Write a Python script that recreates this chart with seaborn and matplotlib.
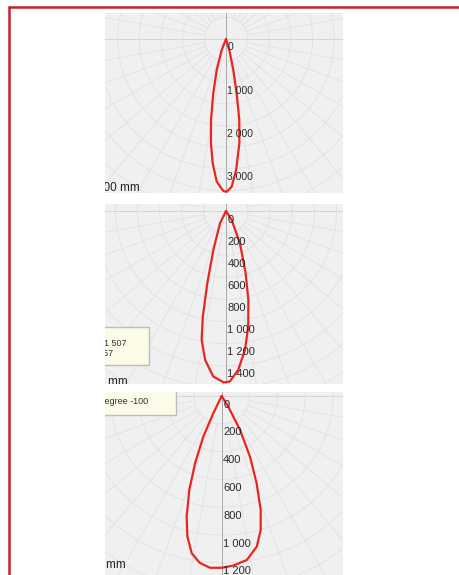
import numpy as np
import matplotlib
matplotlib.use("Agg")
import matplotlib.pyplot as plt
import matplotlib.transforms as mtransforms
from matplotlib.patches import Rectangle
from matplotlib.lines import Line2D
import seaborn as sns

# Light distribution curves: angle from nadir (deg, negative = left) and value (mm)
angles_top = [-30, -21.4, -16.7, -13.2, -10.5, -8.2, -6.1, -3.7, -1.0, 0.3,
              2.2, 4.4, 7.3, 9.3, 11.1, 13.3, 16.7, 25]
values_top = [0, 273, 748, 1288, 1903, 2434, 2888, 3303, 3511, 3527,
              3414, 3035, 2428, 1896, 1278, 735, 265, 0]
ticks_top = [0, 1000, 2000, 3000]
labels_top = ["0", "1 000", "2 000", "3 000"]

angles_mid = [-35, -26, -18, -14.5, -12.4, -10.7, -8.0, -4.4, -0.7, 1.3,
              4.4, 7.8, 10.9, 14.1, 17.5, 23.4, 32.3, 40]
values_mid = [0, 124, 371, 675, 978, 1187, 1360, 1502, 1552, 1543,
              1442, 1268, 1065, 830, 591, 318, 96, 0]
ticks_mid = [0, 200, 400, 600, 800, 1000, 1200, 1400]
labels_mid = ["0", "200", "400", "600", "800", "1 000", "1 200", "1 400"]

angles_bot = [-30, -25.9, -24.3, -21.6, -19.0, -16.2, -13.7, -10.8, -7.5, -3.9,
              0, 3.9, 8.7, 13.1, 16.2, 18.9, 21.8, 25.0, 28.3, 31.7, 35]
values_bot = [0, 138, 321, 521, 715, 904, 1041, 1151, 1210, 1238,
              1235, 1222, 1193, 1112, 1004, 866, 676, 482, 278, 90, 0]
ticks_bot = [0, 200, 400, 600, 800, 1000, 1200]
labels_bot = ["0", "200", "400", "600", "800", "1 000", "1 200"]

W, H = 460, 575
CURVE_RED = "#e8261f"
FRAME_RED = "#c8202f"
GRID = "#e0e0e0"

sns.set_theme(style="white")
plt.rcParams["font.family"] = ["Liberation Sans", "DejaVu Sans"]


def to_xy(angles, values):
    a = np.radians(angles)
    v = np.asarray(values, dtype=float)
    return v * np.sin(a), v * np.cos(a)


def draw_panel(fig, box, origin, scale, angles, values, ticks, labels,
               ring_step, tick_size, unit_text, unit_pos):
    left, top, right, bottom = box
    ox, oy = origin
    ax = fig.add_axes([left / W, 1 - bottom / H, (right - left) / W, (bottom - top) / H])
    ax.set_facecolor("#f0f0f0")

    # polar grid
    phi = np.linspace(0, 2 * np.pi, 361)
    for r in np.arange(ring_step, 25 * ring_step, ring_step):
        ax.plot(r * np.cos(phi), r * np.sin(phi), color=GRID, lw=0.55, zorder=1)
    big = 40 * ring_step
    for deg in range(0, 360, 10):
        a = np.radians(deg)
        ax.plot([ring_step * np.cos(a), big * np.cos(a)],
                [ring_step * np.sin(a), big * np.sin(a)],
                color=GRID, lw=0.55, zorder=1)
    ax.plot([-big, big], [0, 0], color="#d2d2d2", lw=0.6, zorder=2)
    ax.plot([0, 0], [-big, big], color="#a9a9a9", lw=0.7, zorder=2)

    x, y = to_xy(angles, values)
    sns.lineplot(x=x, y=y, sort=False, estimator=None, color=CURVE_RED,
                 lw=1.6, ax=ax, zorder=4)

    ax.set_xlim((left - ox) * scale, (right - ox) * scale)
    ax.set_ylim((bottom - oy) * scale, (top - oy) * scale)
    ax.set_xticks([])
    ax.set_yticks([])
    ax.set_xlabel("")
    ax.set_ylabel("")
    for s in ax.spines.values():
        s.set_visible(False)

    trans = mtransforms.offset_copy(ax.transData, fig=fig, x=1.5, y=-8.5, units="dots")
    for t, lab in zip(ticks, labels):
        ax.text(0, t, lab, transform=trans, ha="left", va="center",
                fontsize=tick_size, color="#2b2b2b", clip_on=True, zorder=5)

    ux, uy = unit_pos
    ax.text((ux - left) / (right - left), (bottom - uy) / (bottom - top), unit_text,
            transform=ax.transAxes, ha="right", va="center", fontsize=8.5,
            color="#222222", clip_on=True, zorder=5)
    return ax


def axes_frac(box, x_px, y_px):
    left, top, right, bottom = box
    return (x_px - left) / (right - left), (bottom - y_px) / (bottom - top)


fig = plt.figure(figsize=(W / 100, H / 100), dpi=100)
fig.patch.set_facecolor("white")

box1 = (105, 13, 343, 193)
draw_panel(fig, box1, (226, 39), 23.09, angles_top, values_top, ticks_top, labels_top,
           500, 7.5, "1 000 mm", (140, 188))

box2 = (105, 204, 343, 384)
ax2 = draw_panel(fig, box2, (226, 211), 9.05, angles_mid, values_mid, ticks_mid, labels_mid,
                 200, 8, "200 mm", (128, 382))
x0, y0 = axes_frac(box2, 95, 365)
x1, y1 = axes_frac(box2, 149, 327)
ax2.add_patch(Rectangle((x0, y0), x1 - x0, y1 - y0, transform=ax2.transAxes,
                        facecolor="#fbfbe8", edgecolor="#bdbdbd", lw=1, zorder=6))
tx, ty = axes_frac(box2, 127, 344)
ax2.text(tx, ty, "Max: 1 507", transform=ax2.transAxes, ha="right", va="center",
         fontsize=6.5, color="#333333", clip_on=True, zorder=7)
tx, ty = axes_frac(box2, 113, 354)
ax2.text(tx, ty, "Angle: 57", transform=ax2.transAxes, ha="right", va="center",
         fontsize=6.5, color="#333333", clip_on=True, zorder=7)

box3 = (105, 392, 343, 575)
ax3 = draw_panel(fig, box3, (221.7, 396), 7.19, angles_bot, values_bot, ticks_bot, labels_bot,
                 200, 8, "200 mm", (126, 565))
x0, y0 = axes_frac(box3, 95, 415)
x1, y1 = axes_frac(box3, 176, 380)
ax3.add_patch(Rectangle((x0, y0), x1 - x0, y1 - y0, transform=ax3.transAxes,
                        facecolor="#fbfbe8", edgecolor="#bdbdbd", lw=1, zorder=6))
tx, ty = axes_frac(box3, 98.5, 401)
ax3.text(tx, ty, "Degree -100", transform=ax3.transAxes, ha="left", va="center",
         fontsize=6.5, color="#333333", clip_on=True, zorder=7)

# red frame around the page
fig.add_artist(Line2D([9.5 / W, 1.0], [1 - 6.8 / H, 1 - 6.8 / H],
                      transform=fig.transFigure, color=FRAME_RED, lw=1.8))
fig.add_artist(Line2D([9.5 / W, 9.5 / W], [0.0, 1 - 6.8 / H],
                      transform=fig.transFigure, color=FRAME_RED, lw=1.8))

fig.savefig("out.png", dpi=100)
